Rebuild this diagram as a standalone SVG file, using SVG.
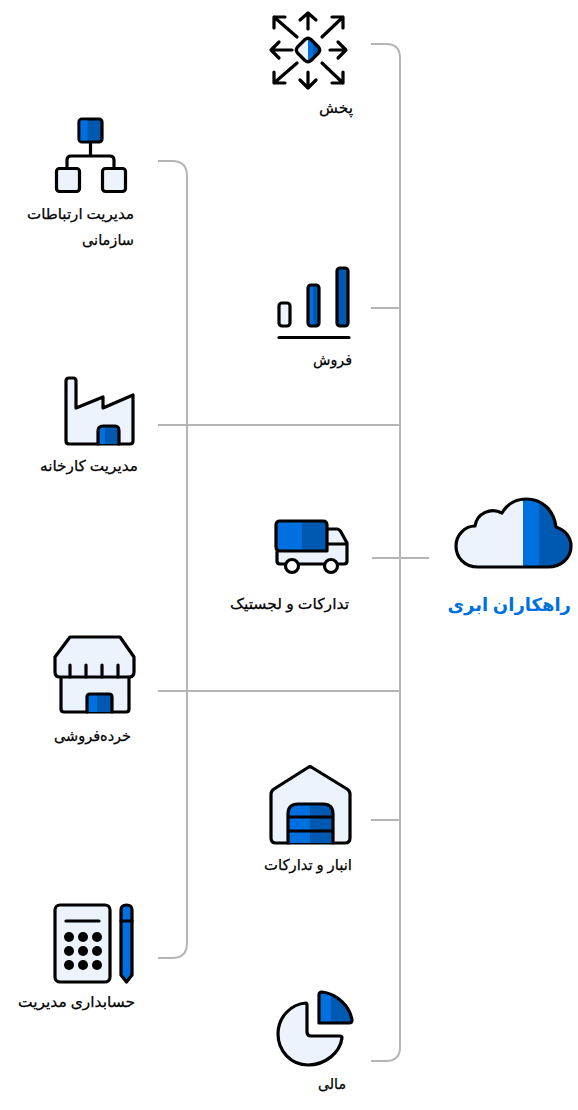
<svg xmlns="http://www.w3.org/2000/svg" width="578" height="1110" viewBox="0 0 578 1110">
<style>
.c{fill:none;stroke:#b5b5b5;stroke-width:2}
.o{stroke:#000;stroke-width:3.200;stroke-linejoin:round;stroke-linecap:round}
.n{fill:none}
.l{fill:#ecf3fc}
.b{fill:#0070e0}
.d{fill:#0059b0}
.t{font-family:"Noto Sans","DejaVu Sans",sans-serif;font-size:15px;fill:#000;stroke:#000;stroke-width:0.250;text-anchor:end;font-weight:500}
</style>
<defs>
<clipPath id="cc"><path d="M478 567C464 567 456 557 456 546C456 535 465 526 475 526C477 513 491 507 502 513C508 503 516 499 526 499C543 499 554 511 556 527C565 530 571 537 571 546C571 558 561 567 548 567Z"/></clipPath>
<linearGradient id="gb" x1="0" x2="1" y1="0" y2="0"><stop offset="0.45" stop-color="#0070e0"/><stop offset="0.45" stop-color="#0059b0"/></linearGradient>
</defs>
<rect width="578" height="1110" fill="#fff"/>
<g id="connectors">
<path class="c" d="M371 44H386Q400 44 400 58V1047Q400 1061 386 1061H371"/>
<path class="c" d="M371 308H400M158 425H400M372 558H429M158 691H400M371 820H400"/>
<path class="c" d="M158 161H172Q187 161 187 176V943Q187 958 172 958H158"/>
</g>
<g id="pakhsh">
<path class="l" d="M308 38L320 50L308 62L296 50Z"/>
<path class="b" d="M308 38L320 50L308 62Z"/>
<path class="d" d="M313 43L320 50L313 57Z"/>
<path class="o n" d="M305 39.500Q308 37 311 39.500L318.500 47Q321 50 318.500 53L311 60.500Q308 63 305 60.500L297.500 53Q295 50 297.500 47Z"/>
<path class="o n" d="M308 13V29M300 20L308 13L316 20M308 72V88M300 80L308 88L316 80M271 50H292M279 42L271 50L279 58M330 50H346M338 42L346 50L338 58"/>
<path class="o n" d="M274 17L297 37M274 28V17H285M343 17L322 37M332 17H343V28M274 83L297 63M274 72V83H285M343 83L322 63M332 83H343V72"/>
<text class="t" x="353" y="113" textLength="34" lengthAdjust="spacingAndGlyphs">پخش</text>
</g>
<g id="org">
<path class="o n" d="M90.500 142V156M67 167V160Q67 156 71 156H110Q114 156 114 160V167"/>
<rect class="o d" x="79" y="119" width="23" height="23" rx="3"/>
<rect x="80.500" y="120.500" width="7" height="20" class="b"/>
<rect class="o l" x="56.500" y="168.500" width="23" height="23" rx="3"/>
<rect class="o l" x="102.500" y="168.500" width="23" height="23" rx="3"/>
<text class="t" x="134" y="219" textLength="107" lengthAdjust="spacingAndGlyphs">مدیریت ارتباطات</text>
<text class="t" x="134" y="245" textLength="52" lengthAdjust="spacingAndGlyphs">سازمانی</text>
</g>
<g id="factory">
<path class="o l" d="M66 381Q66 378 69 378H73Q76 378 76 381V408L103 397V408L133 395V441Q133 444 130 444H69Q66 444 66 441Z"/>
<path class="d" d="M98 444V431Q98 426 103 426H115Q119 426 119 431V444Z"/>
<path class="b" d="M98 444V431Q98 426 103 426H105V444Z"/>
<path class="o n" d="M98 444V431Q98 426 103 426H115Q119 426 119 431V444"/>
<text class="t" x="138" y="471" textLength="98" lengthAdjust="spacingAndGlyphs">مدیریت کارخانه</text>
</g>
<g id="sales">
<rect class="o l" x="279" y="303" width="11" height="23" rx="3"/>
<rect class="o" fill="url(#gb)" x="308" y="285" width="11" height="41" rx="3"/>
<rect class="o d" x="337" y="268" width="11" height="58" rx="3"/>
<path class="o n" d="M279 337.500H349"/>
<text class="t" x="352" y="365" textLength="39" lengthAdjust="spacingAndGlyphs">فروش</text>
</g>
<g id="logistics">
<path class="l" d="M277 552H327V529H337Q339 529 341 532L347 543V561Q347 564 344 564H280Q277 564 277 561Z"/>
<path class="o n" d="M327 529H337Q339 529 341 532L347 543V561Q347 564 344 564H338M324 564H299M285 564H280Q277 564 277 561V552M327 544H347"/>
<path class="d" d="M280 521H323Q327 521 327 525V551H280Q276 551 276 547V525Q276 521 280 521Z"/>
<path class="b" d="M280 521H302V551H280Q276 551 276 547V525Q276 521 280 521Z"/>
<path class="o n" d="M280 521H323Q327 521 327 525V551H280Q276 551 276 547V525Q276 521 280 521Z"/>
<circle class="o" fill="#fff" cx="292" cy="566" r="6.500"/>
<circle class="o" fill="#fff" cx="331" cy="566" r="6.500"/>
<text class="t" x="349" y="609" textLength="119" lengthAdjust="spacingAndGlyphs">تدارکات و لجستیک</text>
</g>
<g id="cloud">
<g clip-path="url(#cc)">
<rect x="450" y="495" width="73" height="75" class="l"/>
<rect x="523" y="495" width="16" height="75" class="b"/>
<rect x="539" y="495" width="35" height="75" class="d"/>
</g>
<path class="o n" d="M478 567C464 567 456 557 456 546C456 535 465 526 475 526C477 513 491 507 502 513C508 503 516 499 526 499C543 499 554 511 556 527C565 530 571 537 571 546C571 558 561 567 548 567Z"/>
<text x="571" y="611" style="font-family:'Noto Sans','DejaVu Sans',sans-serif;font-size:18px;font-weight:700;fill:#0070e0;text-anchor:end">راهکاران ابری</text>
</g>
<g id="retail">
<path class="o l" d="M61 676H129V709Q129 712 126 712H64Q61 712 61 709Z"/>
<path class="d" d="M87 694H112V712H87Z"/>
<path class="b" d="M87 694H97V712H87Z"/>
<path class="o n" d="M87 712V697Q87 694 90 694H109Q112 694 112 697V712"/>
<path class="o l" d="M70 637H120L134 657V672Q134 677 129 677H60Q55 677 55 672V657Z"/>
<path class="o n" d="M70 665V677M86 665V677M102 665V677M118 665V677"/>
<text class="t" x="131" y="741" textLength="77" lengthAdjust="spacingAndGlyphs">خرده‌فروشی</text>
</g>
<g id="warehouse">
<path class="o l" d="M308 767.500Q310 766 312 767.500L347 789Q350 791 350 794V838Q350 843 345 843H276Q271 843 271 838V794Q271 791 274 789Z"/>
<path class="d" d="M288 843V814Q288 804 298 804H323Q333 804 333 814V843Z"/>
<path class="b" d="M288 843V814Q288 804 298 804H310V843Z"/>
<path class="o n" d="M288 843V814Q288 804 298 804H323Q333 804 333 814V843M288 817H333M288 831H333"/>
<text class="t" x="352" y="870" textLength="88" lengthAdjust="spacingAndGlyphs">انبار و تدارکات</text>
</g>
<g id="accounting">
<rect class="o l" x="55" y="905" width="55" height="77" rx="5"/>
<path class="o n" d="M66 921H99"/>
<g fill="#000"><circle cx="69" cy="937" r="5"/><circle cx="83" cy="937" r="5"/><circle cx="97" cy="937" r="5"/><circle cx="69" cy="951" r="5"/><circle cx="83" cy="951" r="5"/><circle cx="97" cy="951" r="5"/><circle cx="69" cy="965" r="5"/><circle cx="83" cy="965" r="5"/><circle cx="97" cy="965" r="5"/></g>
<path class="o b" d="M121 910Q121 905 126.500 905Q132 905 132 910V975L126.500 982L121 975Z"/>
<path class="o n" d="M121 921H132"/>
<text class="t" x="135" y="1007" textLength="117" lengthAdjust="spacingAndGlyphs">حسابداری مدیریت</text>
</g>
<g id="finance">
<path class="o l" d="M306 1003Q307 1003 307 1005V1032Q307 1036 311 1036H340Q342 1036 342 1038C340 1053 325 1065 308 1065C291 1065 278 1051 278 1034C278 1017 291 1004 306 1003Z"/>
<path class="d" d="M319 995Q319 992 322 992C338 994 350 1007 352 1020Q352 1023 349 1023H319Z"/>
<path class="b" d="M319 995Q319 992 322 992Q327 993 331 995V1023H319Z"/>
<path class="o n" d="M319 995Q319 992 322 992C338 994 350 1007 352 1020Q352 1023 349 1023H319Z"/>
<text class="t" x="346" y="1089" textLength="28" lengthAdjust="spacingAndGlyphs">مالی</text>
</g>
</svg>
